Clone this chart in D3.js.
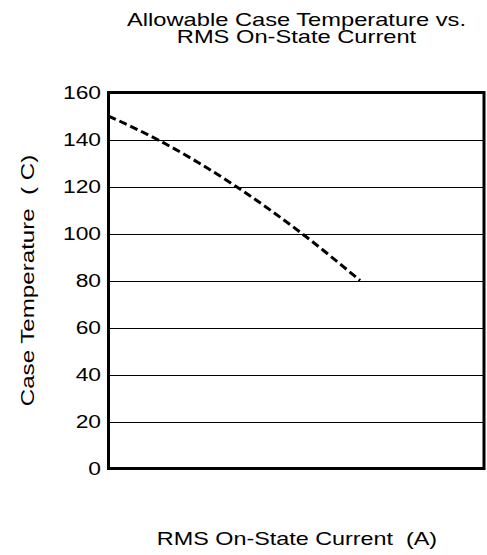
<!DOCTYPE html>
<html>
<head>
<meta charset="utf-8">
<script src="https://cdn.jsdelivr.net/npm/d3@7"></script>
<style>
  body { margin: 0; background: #fff; }
  text { font-family: "Liberation Sans", Arial, sans-serif; fill: #000; white-space: pre; }
</style>
</head>
<body>
<script>
// chart data (current in A, case temperature in C)
var currents = [0, 1.3, 3.4, 5.15, 6.7];
var temps = [150, 140, 120, 100, 80];
var yTicks = [0, 20, 40, 60, 80, 100, 120, 140, 160];
var titleLines = ["Allowable Case Temperature vs.", "RMS On-State Current"];
var xLabel = "RMS On-State Current  (A)";
var yLabel = "Case Temperature  ( C)";

var W = 487, H = 555;
var plotL = 108.5, plotR = 484, plotT = 92.5, plotB = 468.5;
var fs = 19; // text is a little wider than plain Arial, so it gets stretched

var svg = d3.select("body").append("svg").attr("width", W).attr("height", H);

var x = d3.scaleLinear().domain([0, 10]).range([plotL, plotR]);
var y = d3.scaleLinear().domain([0, 160]).range([plotB, plotT]);

// horizontal grid lines
svg.append("g").selectAll("line")
  .data(yTicks.filter(function (d) { return d > 0 && d < 160; }))
  .enter().append("line")
  .attr("x1", plotL).attr("x2", plotR)
  .attr("y1", function (d) { return Math.round(y(d)) + 0.5; })
  .attr("y2", function (d) { return Math.round(y(d)) + 0.5; })
  .attr("stroke", "#000").attr("stroke-width", 1);

// y tick labels
svg.append("g").selectAll("text")
  .data(yTicks)
  .enter().append("text")
  .attr("transform", function (d) { return "translate(101," + (y(d) + 6.5) + ") scale(1.2,1)"; })
  .attr("text-anchor", "end")
  .attr("font-size", fs)
  .text(function (d) { return d; });

// dashed curve
var line = d3.line()
  .x(function (d, i) { return x(currents[i]); })
  .y(function (d) { return y(d); })
  .curve(d3.curveMonotoneX);

svg.append("path")
  .datum(temps)
  .attr("d", line)
  .attr("fill", "none")
  .attr("stroke", "#000")
  .attr("stroke-width", 3)
  .attr("stroke-dasharray", "8,4");

// frame
svg.append("rect")
  .attr("x", plotL).attr("y", plotT)
  .attr("width", plotR - plotL).attr("height", plotB - plotT)
  .attr("fill", "none").attr("stroke", "#000").attr("stroke-width", 3);

// title
svg.append("g").selectAll("text")
  .data(titleLines)
  .enter().append("text")
  .attr("transform", function (d, i) { return "translate(296.5," + (25.5 + i * 17) + ") scale(1.28,1)"; })
  .attr("text-anchor", "middle")
  .attr("font-size", 18.5)
  .text(function (d) { return d; });

// axis labels
svg.append("text")
  .attr("transform", "translate(297,545) scale(1.23,1)")
  .attr("text-anchor", "middle")
  .attr("font-size", fs)
  .text(xLabel);

svg.append("text")
  .attr("transform", "translate(34," + ((plotT + plotB) / 2) + ") rotate(-90) scale(1.27,1)")
  .attr("text-anchor", "middle")
  .attr("font-size", fs)
  .text(yLabel);
</script>
</body>
</html>
